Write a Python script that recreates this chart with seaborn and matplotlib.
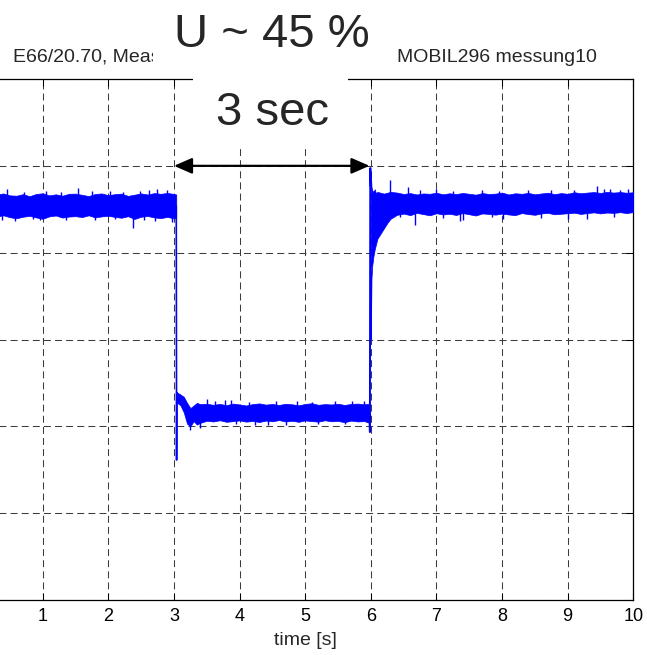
import numpy as np
import matplotlib
matplotlib.use("Agg")
import matplotlib.pyplot as plt
import seaborn as sns
import pandas as pd
from matplotlib.patches import Rectangle

# ---------------- data (voltage in V, time in s) ----------------
# segment A: nominal voltage before the dip (upper / lower noise envelope)
tA = [0.0, 0.1, 0.2, 0.3, 0.4, 0.5, 0.6, 0.7, 0.8, 0.9, 1.0, 1.1, 1.2, 1.3, 1.4, 1.5,
      1.6, 1.7, 1.8, 1.9, 2.0, 2.1, 2.2, 2.3, 2.4, 2.5, 2.6, 2.7, 2.8, 2.9, 3.0, 3.035]
upA = [233.4, 233.9, 232.7, 233.5, 234.1, 233.0, 232.8, 233.7, 232.5, 233.8, 234.2, 233.0,
       233.6, 232.8, 233.9, 234.0, 233.3, 232.6, 233.8, 234.1, 233.1, 233.7, 234.0, 232.7,
       233.4, 234.1, 233.5, 234.3, 233.9, 234.4, 233.8, 233.5]
loA = [220.6, 221.3, 220.1, 220.9, 221.5, 220.4, 219.8, 220.7, 221.2, 220.3, 219.5, 220.9,
       221.4, 220.2, 220.8, 221.0, 220.5, 221.5, 220.3, 220.9, 221.2, 220.6, 220.1, 221.0,
       219.4, 220.7, 221.1, 220.3, 219.9, 220.6, 219.7, 220.0]

# segment B: voltage during the dip
tB = [3.045, 3.07, 3.1, 3.15, 3.2, 3.25, 3.3, 3.35, 3.4,
      3.5, 3.6, 3.7, 3.8, 3.9, 4.0, 4.1, 4.2, 4.3, 4.4, 4.5, 4.6, 4.7, 4.8, 4.9,
      5.0, 5.1, 5.2, 5.3, 5.4, 5.5, 5.6, 5.7, 5.8, 5.9, 5.98]
upB = [119.5, 119.0, 118.3, 117.0, 113.5, 110.5, 112.0, 113.5, 112.8,
       113.0, 112.4, 112.9, 112.2, 113.1, 112.6, 112.0, 112.8, 113.2, 112.5, 112.9, 112.3,
       113.0, 112.7, 112.1, 112.9, 113.3, 112.4, 112.8, 112.6, 113.0, 112.3, 112.9, 113.1,
       112.7, 113.0]
loB = [113.5, 113.0, 112.0, 108.0, 101.5, 100.0, 103.0, 101.0, 102.0,
       103.2, 102.8, 103.5, 102.6, 103.0, 103.4, 102.7, 103.1, 102.5, 103.3, 102.9, 103.6,
       102.8, 103.2, 102.6, 103.4, 103.0, 102.7, 103.5, 102.9, 103.1, 102.4, 103.3, 102.8,
       103.0, 102.0]

# segment C: recovery after the dip
tC = [6.0, 6.01, 6.02, 6.04, 6.06, 6.08, 6.1, 6.15, 6.2, 6.25, 6.3,
      6.4, 6.5, 6.6, 6.7, 6.8, 6.9, 7.0, 7.1, 7.2, 7.3, 7.4, 7.5, 7.6, 7.7, 7.8, 7.9,
      8.0, 8.1, 8.2, 8.3, 8.4, 8.5, 8.6, 8.7, 8.8, 8.9, 9.0, 9.1, 9.2, 9.3, 9.4, 9.5,
      9.6, 9.7, 9.8, 9.9, 10.0]
upC = [246.0, 238.0, 236.0, 235.0, 236.5, 234.0, 235.0, 234.5, 234.0, 234.5, 235.0,
       234.6, 233.8, 234.3, 233.5, 234.1, 233.9, 234.5, 233.6, 234.2, 233.7,
       234.4, 233.9, 233.4, 234.3, 233.8, 234.0, 234.6, 233.5, 234.2, 233.9,
       234.4, 233.6, 234.1, 234.5, 233.7, 234.3, 233.9, 234.8, 234.2, 234.6,
       234.9, 234.4, 235.0, 234.6, 234.9, 234.5, 234.8]
loC = [150.0, 185.0, 192.0, 198.0, 202.0, 205.0, 208.0, 211.0, 214.0, 217.0, 219.5,
       221.8, 222.5, 221.6, 222.9, 222.2, 221.5, 222.7, 222.0, 222.4, 221.7,
       222.8, 222.1, 221.4, 222.6, 222.3, 221.9, 222.5, 222.0, 221.6, 222.8,
       222.2, 221.8, 222.6, 222.9, 222.1, 222.4, 222.7, 223.0, 222.3, 222.8,
       223.2, 222.6, 223.1, 222.9, 223.3, 222.8, 223.4]

# fast transients at the switching instants
drop_t = [3.035, 3.040, 3.043, 3.047]
drop_v = [227.0, 80.6, 119.5, 116.0]
rise_t = [5.980, 5.986, 5.992, 6.000]
rise_v = [107.0, 96.7, 248.7, 238.0]

# single noise spikes (upward, then downward)
spike_t = [0.45, 0.72, 1.05, 1.28, 1.54, 1.75, 2.03, 2.22, 2.48, 2.62, 2.74, 2.89,
           3.50, 3.62, 3.78, 3.87, 4.15, 4.55, 4.87, 5.10, 5.45, 5.72, 5.90,
           6.29, 6.57, 6.75, 7.00, 7.25, 7.70, 7.95, 8.40, 8.75, 9.10, 9.45, 9.55,
           9.65, 9.80, 9.92,
           0.38, 0.57, 0.85, 0.96, 1.35, 1.80, 2.10, 2.38, 2.55, 2.71, 2.97,
           3.24, 3.40, 3.95, 4.24, 4.44, 4.70, 5.20, 5.60,
           6.45, 6.68, 7.10, 7.36, 7.40, 7.85, 8.02, 8.60, 9.00, 9.30, 9.70]
spike_v = [236.5, 235.2, 235.4, 235.0, 237.0, 235.3, 235.6, 235.1, 235.4, 235.8, 236.6,
           236.2,
           115.5, 114.3, 115.0, 115.2, 114.2, 114.5, 114.8, 114.1, 114.6, 114.3, 114.5,
           241.8, 237.8, 236.2, 236.4, 235.6, 236.0, 235.7, 235.8, 236.0, 235.9, 238.4,
           236.5, 236.9, 236.3, 236.7,
           219.0, 218.2, 219.3, 218.6, 219.0, 218.9, 219.2, 214.2, 219.0, 218.2, 217.6,
           97.9, 99.0, 101.5, 100.8, 100.8, 100.8, 101.2, 101.6,
           220.6, 216.0, 220.2, 218.5, 218.8, 220.3, 219.5, 219.8, 219.6, 219.4, 220.4]

x_ticks = [0, 1, 2, 3, 4, 5, 6, 7, 8, 9, 10]
x_tick_labels = ["", "1", "2", "3", "4", "5", "6", "7", "8", "9", "10"]
y_ticks = [0, 50, 100, 150, 200, 250, 300]
title_left = "E66/20.70, Meas"
title_right = "MOBIL296 messung10"
label_dip = "U ~ 45 %"
label_dur = "3 sec"

# ---------------- figure ----------------
sns.set_theme(style="white")
plt.rcParams["font.family"] = ["Liberation Sans", "DejaVu Sans"]
plt.rcParams["lines.scale_dashes"] = False

W, H = 647, 655
fig = plt.figure(figsize=(W / 100, H / 100), dpi=100)
x0_px, x10_px, top_px, bot_px = -22.9, 633.3, 79.0, 600.0
ax = fig.add_axes([x0_px / W, 1 - bot_px / H, (x10_px - x0_px) / W, (bot_px - top_px) / H])

blue = "#0000ff"
for t, up, lo in ((tA, upA, loA), (tB, upB, loB), (tC, upC, loC)):
    ax.fill_between(t, lo, up, color=blue, lw=0.5, edgecolor=blue, zorder=3)

df_drop = pd.DataFrame({"t": drop_t, "v": drop_v})
df_rise = pd.DataFrame({"t": rise_t, "v": rise_v})
sns.lineplot(data=df_drop, x="t", y="v", sort=False, color=blue, lw=1.2, ax=ax, zorder=3)
sns.lineplot(data=df_rise, x="t", y="v", sort=False, color=blue, lw=1.4, ax=ax, zorder=3)

all_t = np.array(tA + tB + tC)
all_mid = (np.array(upA + upB + upC) + np.array(loA + loB + loC)) / 2
base = np.interp(spike_t, all_t, all_mid)
ax.vlines(spike_t, base, spike_v, color=blue, lw=1.0, zorder=3)

ax.set_xlim(0, 10)
ax.set_ylim(0, 300)
ax.set_xticks(x_ticks)
ax.set_xticklabels(x_tick_labels)
ax.set_yticks(y_ticks)
ax.set_yticklabels([])
ax.set_xlabel("time [s]", fontsize=14, labelpad=5)
ax.set_ylabel("")
ax.grid(True, linestyle=(0, (5, 3)), color="#3c3c3c", lw=0.75)
ax.set_axisbelow(True)
for s in ax.spines.values():
    s.set_color("black")
    s.set_linewidth(0.9)
ax.tick_params(direction="in", length=5, width=0.75, top=True, right=True,
               bottom=True, left=True, labelsize=13, pad=6, colors="black")

# dip-duration arrow
ax.annotate("", xy=(3.0, 250), xytext=(5.98, 250),
            arrowprops=dict(arrowstyle="<|-|>,head_length=0.55,head_width=0.24",
                            color="black", lw=1.6, mutation_scale=20,
                            shrinkA=0, shrinkB=0), zorder=4)

# title fragments
fig.text(13 / W, 1 - 62 / H, title_left, fontsize=14, ha="left", va="baseline", zorder=2)
fig.text(397 / W, 1 - 62 / H, title_right, fontsize=14, ha="left", va="baseline", zorder=2)

# white label boxes
fig.add_artist(Rectangle((153 / W, 1 - 72 / H), (392 - 153) / W, 72 / H,
                         transform=fig.transFigure, facecolor="white", edgecolor="none", zorder=5))
fig.add_artist(Rectangle((193 / W, 1 - 145 / H), (348 - 193) / W, (145 - 60) / H,
                         transform=fig.transFigure, facecolor="white", edgecolor="none", zorder=5))
fig.text(272 / W, 1 - 47 / H, label_dip, fontsize=34, ha="center", va="baseline", zorder=6)
fig.text(272 / W, 1 - 125 / H, label_dur, fontsize=34, ha="center", va="baseline", zorder=6)

fig.savefig("out.png", dpi=100)
